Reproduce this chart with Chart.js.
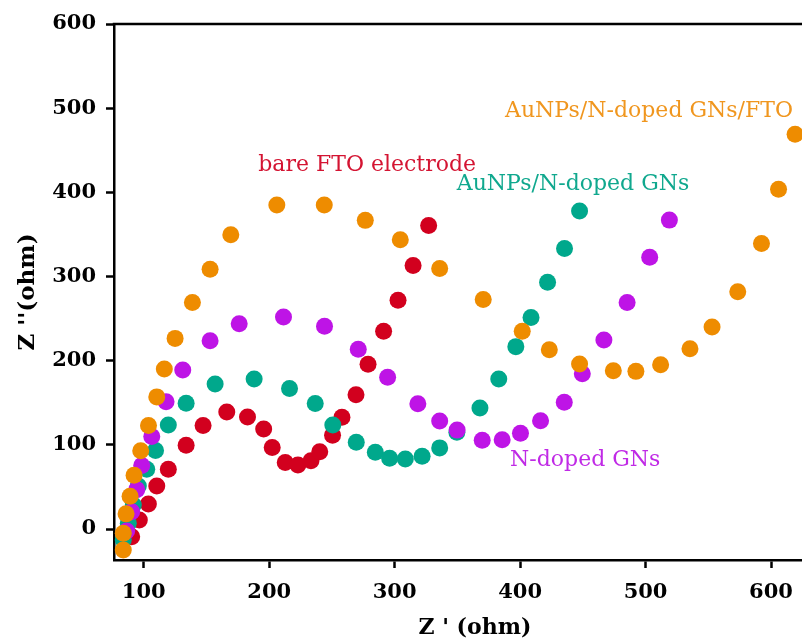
<!DOCTYPE html>
<html><head><meta charset="utf-8">
<script src="https://cdn.jsdelivr.net/npm/chart.js@4.4.1/dist/chart.umd.min.js"></script>
<style>html,body{margin:0;padding:0;background:#fff;overflow:hidden}</style>
</head><body><canvas id="c" width="802" height="643" style="display:block;width:802px;height:643px"></canvas>
<script>
// Series names (also used as in-plot labels)
const seriesNames = ["AuNPs/N-doped GNs/FTO", "N-doped GNs", "AuNPs/N-doped GNs", "bare FTO electrode"];

// AuNPs/N-doped GNs/FTO (orange)
const ftoX = [83.7,83.7,85.9,89.1,92.3,97.6,103.8,110.4,116.4,125.0,138.8,152.9,169.4,206.1,243.9,276.6,304.5,335.9,370.6,401.7,423.3,447.4,474.3,492.3,512.0,535.4,553.0,573.5,592.4,606.0,619.2];
const ftoY = [-25,-5,18,39,64,93,123,157,190,226.5,269,308.7,349.6,384.9,384.9,366.7,343.7,309.5,272.6,234.9,213.1,196.1,188.1,187.3,195.2,214.3,240.1,281.8,339.3,403.6,469];

// N-doped GNs (purple)
const ngX = [86.4,90.4,94.4,98.4,106.4,117.8,131.1,152.9,176.1,211.4,244.1,271.0,294.4,318.5,335.9,349.8,369.8,385.7,400.3,416.3,435.2,449.6,466.8,485.3,503.3,519.0];
const ngY = [-2.4,20.6,46.8,75.6,109.9,151.2,188.9,223.8,244,252,240.8,213.5,180.4,148.8,128.3,117.5,105.6,106,113.7,128.6,150.6,184.5,224.6,269,323,367];

// AuNPs/N-doped GNs (teal)
const auX = [83.7,87.7,91.7,95.7,102.4,109.4,119.6,133.8,156.9,188.0,216.2,236.7,250.7,269.4,284.6,296.0,308.5,321.9,335.9,349.6,368.0,383.0,396.6,408.7,421.9,435.4,447.4];
const auY = [-13.1,6.8,28.6,51.2,71.1,93.2,123.5,149.4,172.3,178.2,167,149.2,123.5,103,91.1,84.2,83.3,86.5,96.4,115.1,143.7,178.2,216.7,251.2,293.2,333.3,377.7];

// bare FTO electrode (red)
const bareX = [90.4,96.5,103.7,110.4,119.6,133.8,147.3,166.2,182.7,195.6,202.4,212.8,222.9,233.3,240.3,250.5,258.0,269.2,278.8,291.2,302.7,314.7,327.1];
const bareY = [-9.2,10.7,29.8,51.2,71.1,99.6,123,138.9,133,118.7,96.8,78.9,76.2,81,91.7,111.5,132.7,159.5,195.8,234.9,271.8,313.1,360.7];

// Axis ranges and tick steps
const xTickStep = 100, yTickStep = 100;
const xMin = 76.3, xMax = 624.7, yMin = -36.8, yMax = 600;
const xTitle = "Z ' (ohm)", yTitle = "Z ''(ohm)";

// Label anchors (data units)
const labelX = [388, 392, 349.5, 191.3];
const labelY = [489.8, 74.8, 402.8, 425.7];

const dotColors = ["#EE8C00", "#BE14E6", "#00A88C", "#D2001E"];
const textColors = ["#F0961E", "#C02AE6", "#10A88E", "#D41432"];

function pts(xs, ys){ return xs.map((v,i)=>({x:v, y:ys[i]})); }
const allX = [ftoX, ngX, auX, bareX], allY = [ftoY, ngY, auY, bareY];

const FONT = '"DejaVu Serif", serif';

const deco = {
  id: 'deco',
  afterDatasetsDraw(chart){
    const {ctx, chartArea:a, scales:{x, y}} = chart;
    ctx.save();
    ctx.strokeStyle = '#000'; ctx.lineWidth = 2.5;
    ctx.beginPath(); ctx.moveTo(a.left - 1.25, a.top); ctx.lineTo(a.right, a.top); ctx.stroke();
    ctx.font = '22px ' + FONT;
    ctx.textAlign = 'left'; ctx.textBaseline = 'alphabetic';
    seriesNames.forEach((t, i) => {
      ctx.fillStyle = textColors[i];
      ctx.fillText(t, x.getPixelForValue(labelX[i]), y.getPixelForValue(labelY[i]));
    });
    ctx.fillStyle = '#000';
    ctx.font = 'bold 22px ' + FONT;
    ctx.textAlign = 'center'; ctx.textBaseline = 'middle';
    ctx.fillText(xTitle, x.getPixelForValue(364), 628);
    ctx.restore();
  }
};

new Chart(document.getElementById('c'), {
  type: 'scatter',
  data: { datasets: seriesNames.map((n, i) => ({ label: n, data: pts(allX[i], allY[i]), backgroundColor: dotColors[i], borderColor: dotColors[i], borderWidth: 0, pointRadius: 8.5, pointHoverRadius: 8.5 })) },
  options: {
    responsive: false, animation: false, devicePixelRatio: 1,
    layout: { autoPadding: false, padding: { top: 24, right: 0, left: 0, bottom: 0 } },
    plugins: { legend: { display: false }, tooltip: { enabled: false } },
    scales: {
      x: {
        type: 'linear', min: xMin, max: xMax,
        afterFit(s){ s.height = 83; s.paddingLeft = 0; s.paddingRight = 0; },
        ticks: { stepSize: xTickStep, includeBounds: false, color: '#000', padding: 12, font: { family: FONT, size: 21, weight: 'bold' }, maxRotation: 0 },
        grid: { display: true, drawOnChartArea: false, drawTicks: true, tickLength: 8, tickColor: '#000', tickWidth: 2.5, color: '#000' },
        border: { display: true, color: '#000', width: 2.5 }
      },
      y: {
        type: 'linear', min: yMin, max: yMax,
        afterFit(s){ s.width = 114; s.paddingTop = 0; s.paddingBottom = 0; },
        ticks: { stepSize: yTickStep, includeBounds: false, color: '#000', padding: 10, font: { family: FONT, size: 21, weight: 'bold' } },
        grid: { display: true, drawOnChartArea: false, drawTicks: true, tickLength: 8, tickColor: '#000', tickWidth: 2.5, color: '#000' },
        border: { display: true, color: '#000', width: 2.5 },
        title: { display: true, text: yTitle, color: '#000', font: { family: FONT, size: 23, weight: 'bold' }, padding: { top: 14, bottom: 0 } }
      }
    }
  },
  plugins: [deco]
});
</script></body></html>
